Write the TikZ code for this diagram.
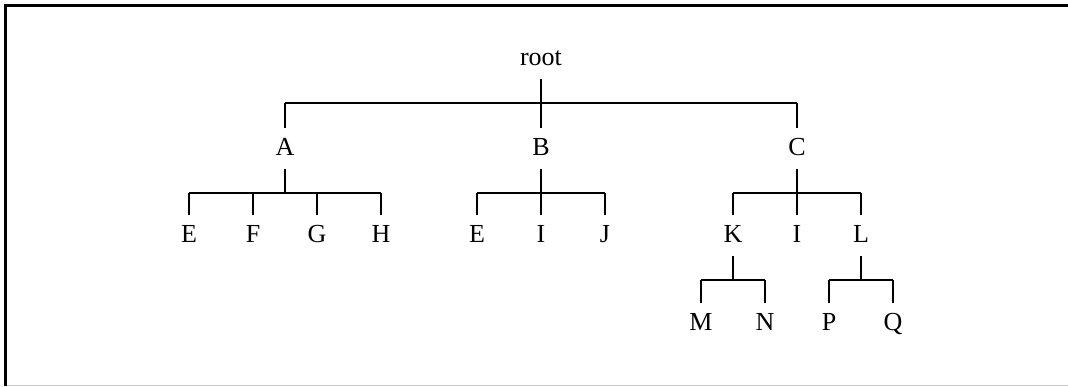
\documentclass[tikz,border=0pt]{standalone}
\usepackage{fontspec}
\setmainfont{Liberation Serif}
\begin{document}
\begin{tikzpicture}[x=0.75pt,y=-0.75pt,
  lbl/.style={anchor=base,inner sep=0pt,outer sep=0pt,text height=20.25pt,text depth=10.5pt,font=\fontsize{19.5}{22}\selectfont},
  edge/.style={line width=1.2pt}]
\useasboundingbox (0,0) rectangle (1068,386);
\draw[line width=2.25pt] (5.5,386) -- (5.5,5.5) -- (1068,5.5);
\draw[black!22,line width=0.9pt] (7,385.4) -- (1068,385.4);
% nodes
\node[lbl] (root) at (541,65) {root};
\node[lbl] (A) at (285,155) {A};
\node[lbl] (B) at (541,155) {B};
\node[lbl] (C) at (797,155) {C};
\node[lbl] (AE) at (189,242) {E};
\node[lbl] (AF) at (253,242) {F};
\node[lbl] (AG) at (317,242) {G};
\node[lbl] (AH) at (381,242) {H};
\node[lbl] (BE) at (477,242) {E};
\node[lbl] (BI) at (541,242) {I};
\node[lbl] (BJ) at (605,242) {J};
\node[lbl] (CK) at (733,242) {K};
\node[lbl] (CI) at (797,242) {I};
\node[lbl] (CL) at (861,242) {L};
\node[lbl] (KM) at (701,330) {M};
\node[lbl] (KN) at (765,330) {N};
\node[lbl] (LP) at (829,330) {P};
\node[lbl] (LQ) at (893,330) {Q};
% edges
\draw[edge] (root.south) -- ++(0,24) coordinate (rb);
\draw[edge] (A.north |- rb) -- (C.north |- rb);
\foreach \c in {A,B,C} \draw[edge] (\c.north |- rb) -- (\c.north);
\draw[edge] (A.south) -- ++(0,24) coordinate (ab);
\draw[edge] (AE.north |- ab) -- (AH.north |- ab);
\foreach \c in {AE,AF,AG,AH} \draw[edge] (\c.north |- ab) -- (\c.north);
\draw[edge] (B.south) -- ++(0,24) coordinate (bb);
\draw[edge] (BE.north |- bb) -- (BJ.north |- bb);
\foreach \c in {BE,BI,BJ} \draw[edge] (\c.north |- bb) -- (\c.north);
\draw[edge] (C.south) -- ++(0,24) coordinate (cb);
\draw[edge] (CK.north |- cb) -- (CL.north |- cb);
\foreach \c in {CK,CI,CL} \draw[edge] (\c.north |- cb) -- (\c.north);
\draw[edge] (CK.south) -- ++(0,24) coordinate (kb);
\draw[edge] (KM.north |- kb) -- (KN.north |- kb);
\foreach \c in {KM,KN} \draw[edge] (\c.north |- kb) -- (\c.north);
\draw[edge] (CL.south) -- ++(0,24) coordinate (lb);
\draw[edge] (LP.north |- lb) -- (LQ.north |- lb);
\foreach \c in {LP,LQ} \draw[edge] (\c.north |- lb) -- (\c.north);
\end{tikzpicture}
\end{document}
